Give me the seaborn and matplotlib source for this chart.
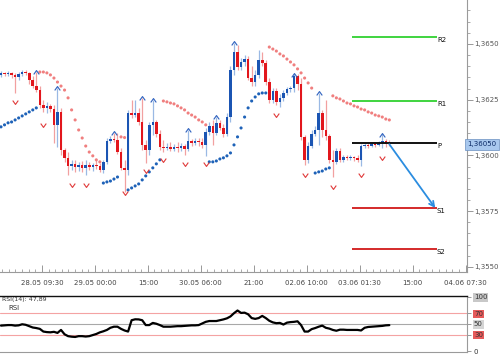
import numpy as np
import pandas as pd
import matplotlib
matplotlib.use('Agg')
import matplotlib.pyplot as plt
from matplotlib.path import Path
from matplotlib.ticker import FixedLocator, MultipleLocator
import seaborn as sns

# hourly candles (price)
opens = [1.36361, 1.36370, 1.36365, 1.36370, 1.36361, 1.36352, 1.36365, 1.36374, 1.36370, 1.36338,
         1.36311, 1.36293, 1.36226, 1.36213, 1.36222, 1.36208, 1.36137, 1.36195, 1.36024, 1.35989,
         1.35953, 1.35962, 1.35948, 1.35957, 1.35944, 1.35957, 1.35948, 1.35957, 1.35953, 1.35935,
         1.35971, 1.36065, 1.36074, 1.36069, 1.36015, 1.35944, 1.35935, 1.36190, 1.36181, 1.36190,
         1.36150, 1.36047, 1.36024, 1.36137, 1.36150, 1.36096, 1.36038, 1.36033, 1.36038, 1.36029,
         1.36038, 1.36033, 1.36042, 1.36029, 1.36065, 1.36056, 1.36065, 1.36060, 1.36047, 1.36105,
         1.36132, 1.36101, 1.36146, 1.36123, 1.36096, 1.36172, 1.36383, 1.36464, 1.36397, 1.36419,
         1.36432, 1.36347, 1.36329, 1.36361, 1.36428, 1.36414, 1.36329, 1.36249, 1.36289, 1.36240,
         1.36258, 1.36280, 1.36298, 1.36302, 1.36356, 1.36320, 1.36083, 1.35980, 1.36042, 1.36096,
         1.36114, 1.36190, 1.36114, 1.36087, 1.35980, 1.35971, 1.36020, 1.35980, 1.35993, 1.35989,
         1.35993, 1.35989, 1.35980, 1.36042, 1.36047, 1.36042, 1.36051, 1.36047, 1.36056, 1.36065,
         1.36051]
highs = [1.36379, 1.36374, 1.36379, 1.36374, 1.36370, 1.36374, 1.36383, 1.36383, 1.36374, 1.36356,
         1.36374, 1.36311, 1.36249, 1.36240, 1.36231, 1.36226, 1.36302, 1.36213, 1.36033, 1.36015,
         1.35980, 1.35980, 1.35971, 1.35975, 1.35980, 1.35971, 1.35966, 1.35980, 1.35966, 1.35980,
         1.36078, 1.36087, 1.36101, 1.36101, 1.36033, 1.35980, 1.36204, 1.36249, 1.36249, 1.36213,
         1.36258, 1.36069, 1.36150, 1.36249, 1.36159, 1.36114, 1.36069, 1.36056, 1.36060, 1.36051,
         1.36060, 1.36056, 1.36051, 1.36114, 1.36074, 1.36078, 1.36078, 1.36078, 1.36123, 1.36150,
         1.36159, 1.36172, 1.36159, 1.36141, 1.36190, 1.36401, 1.36504, 1.36495, 1.36437, 1.36450,
         1.36446, 1.36401, 1.36383, 1.36473, 1.36464, 1.36428, 1.36347, 1.36302, 1.36302, 1.36276,
         1.36293, 1.36307, 1.36311, 1.36365, 1.36365, 1.36347, 1.36092, 1.36060, 1.36114, 1.36132,
         1.36280, 1.36204, 1.36249, 1.36096, 1.36024, 1.36033, 1.36033, 1.36002, 1.36002, 1.36002,
         1.35998, 1.36002, 1.36051, 1.36056, 1.36056, 1.36060, 1.36060, 1.36065, 1.36096, 1.36074,
         1.36069]
lows = [1.36352, 1.36356, 1.36356, 1.36347, 1.36280, 1.36338, 1.36356, 1.36361, 1.36320, 1.36302,
        1.36284, 1.36213, 1.36195, 1.36190, 1.36195, 1.36056, 1.36038, 1.36002, 1.35971, 1.35912,
        1.35935, 1.35926, 1.35930, 1.35926, 1.35912, 1.35935, 1.35930, 1.35939, 1.35926, 1.35921,
        1.35962, 1.36056, 1.36060, 1.36006, 1.35935, 1.35836, 1.35912, 1.36168, 1.36172, 1.36137,
        1.36024, 1.35966, 1.36002, 1.36092, 1.36083, 1.36024, 1.36015, 1.36024, 1.36020, 1.36020,
        1.36015, 1.36020, 1.36002, 1.36020, 1.36042, 1.36047, 1.36042, 1.36033, 1.35998, 1.36092,
        1.36047, 1.36092, 1.36114, 1.36083, 1.36087, 1.36150, 1.36361, 1.36383, 1.36383, 1.36401,
        1.36338, 1.36311, 1.36311, 1.36347, 1.36401, 1.36316, 1.36235, 1.36235, 1.36226, 1.36217,
        1.36244, 1.36271, 1.36284, 1.36284, 1.36293, 1.36069, 1.35957, 1.35966, 1.36033, 1.36087,
        1.36047, 1.36083, 1.36069, 1.35966, 1.35903, 1.35962, 1.35971, 1.35971, 1.35980, 1.35980,
        1.35975, 1.35971, 1.35953, 1.36033, 1.36033, 1.36038, 1.36038, 1.36042, 1.36033, 1.36038,
        1.36042]
closes = [1.36370, 1.36365, 1.36370, 1.36361, 1.36352, 1.36365, 1.36374, 1.36370, 1.36338, 1.36311,
          1.36293, 1.36226, 1.36213, 1.36222, 1.36208, 1.36137, 1.36195, 1.36024, 1.35989, 1.35953,
          1.35962, 1.35948, 1.35957, 1.35944, 1.35957, 1.35948, 1.35957, 1.35953, 1.35935, 1.35971,
          1.36065, 1.36074, 1.36069, 1.36015, 1.35944, 1.35935, 1.36190, 1.36181, 1.36190, 1.36150,
          1.36047, 1.36024, 1.36137, 1.36150, 1.36096, 1.36038, 1.36033, 1.36038, 1.36029, 1.36038,
          1.36033, 1.36042, 1.36029, 1.36065, 1.36056, 1.36065, 1.36060, 1.36047, 1.36105, 1.36132,
          1.36101, 1.36146, 1.36123, 1.36096, 1.36172, 1.36383, 1.36464, 1.36397, 1.36419, 1.36432,
          1.36347, 1.36329, 1.36361, 1.36428, 1.36414, 1.36329, 1.36249, 1.36289, 1.36240, 1.36258,
          1.36280, 1.36298, 1.36302, 1.36356, 1.36320, 1.36083, 1.35980, 1.36042, 1.36096, 1.36114,
          1.36190, 1.36114, 1.36087, 1.35980, 1.35971, 1.36020, 1.35980, 1.35993, 1.35989, 1.35993,
          1.35989, 1.35980, 1.36042, 1.36047, 1.36042, 1.36051, 1.36047, 1.36056, 1.36065, 1.36051,
          1.36050]

# parabolic SAR, one dot per candle; 1 = dot under the price (blue), 0 = above (red)
sar = [1.36128, 1.36137, 1.36146, 1.36150, 1.36159, 1.36168, 1.36177, 1.36186, 1.36195, 1.36204, 1.36213,
       1.36374, 1.36374, 1.36370, 1.36361, 1.36347, 1.36329, 1.36311, 1.36293, 1.36258, 1.36204,
       1.36159, 1.36114, 1.36078, 1.36042, 1.36015, 1.35998, 1.35980, 1.35971,
       1.35876, 1.35881, 1.35885, 1.35894, 1.35903,
       1.36083, 1.36080,
       1.35845, 1.35854, 1.35863, 1.35872, 1.35890, 1.35908, 1.35926, 1.35944, 1.35962, 1.35980,
       1.36244, 1.36240, 1.36235, 1.36231, 1.36222, 1.36213, 1.36204, 1.36190, 1.36181, 1.36172,
       1.36159, 1.36150, 1.36137,
       1.35971, 1.35971, 1.35975, 1.35984, 1.35989, 1.35998, 1.36011, 1.36047, 1.36083, 1.36123,
       1.36172, 1.36213, 1.36244, 1.36262, 1.36276, 1.36280, 1.36280,
       1.36486, 1.36477, 1.36468, 1.36455, 1.36446, 1.36432, 1.36419, 1.36406, 1.36388, 1.36370,
       1.36347, 1.36325, 1.36302,
       1.35921, 1.35926, 1.35930, 1.35939, 1.35944,
       1.36267, 1.36258, 1.36253, 1.36244, 1.36235, 1.36231, 1.36222, 1.36217, 1.36208, 1.36204,
       1.36195, 1.36190, 1.36181, 1.36177, 1.36172, 1.36163, 1.36159]
sar_below = [1] * 11 + [0] * 18 + [1] * 5 + [0] * 2 + [1] * 10 + [0] * 13 + [1] * 17 + [0] * 13 + [1] * 5 + [0] * 17

# fractal arrows
fractal_up_idx = [10, 16, 32, 40, 43, 53, 61, 66, 83, 90, 108]
fractal_up_px = [1.36374, 1.36302, 1.36101, 1.36258, 1.36249, 1.36114, 1.36172, 1.36504, 1.36361, 1.36280, 1.36092]
fractal_dn_idx = [4, 12, 20, 24, 35, 41, 46, 52, 58, 78, 86, 94, 102, 108]
fractal_dn_px = [1.36240, 1.36137, 1.35868, 1.35868, 1.35832, 1.35930, 1.35980, 1.35962, 1.35962,
                 1.36181, 1.35912, 1.35859, 1.35912, 1.35989]

rsi = [47, 47.5, 48, 48, 47, 47.5, 49.5, 48.5, 46, 43.5,
       42.5, 41, 36, 35, 34.6, 35.5, 33.5, 39, 31, 27.5,
       26.5, 26, 27.5, 27.5, 26.8, 27.5, 29.5, 31.5, 34.5, 36.5,
       39, 43, 45, 45, 41, 38, 36, 57, 58.7, 58.5,
       57, 48, 48, 52, 50.5, 48, 45, 45, 45, 45.5,
       46, 46, 46.5, 47, 47.5, 47.5, 48, 51, 54, 55.5,
       55.5, 55.5, 57, 58.5, 60.5, 64, 70, 75, 70.5, 71,
       68, 61, 59.5, 61, 65, 61, 56, 53, 51.5, 52,
       49, 52.5, 53.5, 54, 55, 48, 36, 36, 40.5, 42.5,
       45, 47, 43, 41.5, 39, 37.5, 39.5, 39.5, 39, 39,
       39, 39, 38, 43, 44.5, 45, 45.5, 46, 46.5, 47.5,
       47.89]

pivot_names = ['R2', 'R1', 'P', 'S1', 'S2']
pivot_levels = [1.36531, 1.36244, 1.36055, 1.35764, 1.35580]
pivot_colors = ['#3fd43f', '#3fd43f', '#111111', '#d42a2a', '#d42a2a']

time_labels = ['28.05 09:30', '29.05 00:00', '15:00', '30.05 06:00', '21:00',
               '02.06 10:00', '03.06 01:30', '15:00', '04.06 07:30']
price_ticks = [1.3550, 1.3575, 1.3600, 1.3625, 1.3650]
rsi_ticks = [0, 30, 50, 70, 100]

# layout (candle index units)
first_label = 11.6
label_step = 15
pivot_start, pivot_end = 99.4, 123.5
x_lo, x_hi = -0.28, 132.0

sns.set_theme(style='white')
plt.rcParams['font.family'] = ['DejaVu Sans']

W, H = 500, 354
fig = plt.figure(figsize=(W / 100, H / 100), dpi=100)
ax = fig.add_axes([0, (H - 272) / H, 467 / W, 272 / H])
ax_rsi = fig.add_axes([0, 2 / H, 467 / W, 56 / H])

n = len(closes)
df = pd.DataFrame({'i': np.arange(n), 'open': opens, 'high': highs, 'low': lows,
                   'close': closes, 'sar': sar, 'below': sar_below, 'rsi': rsi})
up = df['close'] >= df['open']

blue, red = '#1b55b3', '#e2161c'
light_blue, light_red = '#9ab9e4', '#f2a0a0'

# wicks, then bodies
ax.vlines(df['i'][up], df['low'][up], df['high'][up], color=light_blue, lw=0.9, zorder=2)
ax.vlines(df['i'][~up], df['low'][~up], df['high'][~up], color=light_red, lw=0.9, zorder=2)
body = (df['close'] - df['open']).abs().clip(lower=0.000025)
ax.bar(df['i'], body, bottom=df[['open', 'close']].min(axis=1), width=0.72,
       color=np.where(up, blue, red), linewidth=0, zorder=3)

# SAR dots
df['side'] = np.where(df['below'] == 1, 'bull', 'bear')
sns.scatterplot(data=df, x='i', y='sar', hue='side', palette={'bull': '#1e62b8', 'bear': '#f07f7f'},
                s=5, linewidth=0, legend=False, ax=ax, zorder=4)

# fractal carets
up_mark = Path([(-1, -0.7), (0, 0.7), (1, -0.7)], [Path.MOVETO, Path.LINETO, Path.LINETO])
dn_mark = Path([(-1, 0.7), (0, -0.7), (1, 0.7)], [Path.MOVETO, Path.LINETO, Path.LINETO])
ax.plot(fractal_up_idx, fractal_up_px, ls='none', marker=up_mark, ms=4, mfc='none', mec='#2f62bf', mew=0.8, zorder=5)
ax.plot(fractal_dn_idx, fractal_dn_px, ls='none', marker=dn_mark, ms=4, mfc='none', mec='#e03a3a', mew=0.8, zorder=5)

# daily pivot levels
ax.hlines(pivot_levels, pivot_start, pivot_end, colors=pivot_colors, lw=1.4, zorder=3)
for name, lvl in zip(pivot_names, pivot_levels):
    ax.text(pivot_end, lvl, name, ha='left', va='top', fontsize=5, color='#111111')

# projected move from last close to S1
ax.annotate('', xy=(pivot_end - 0.5, pivot_levels[3]), xytext=(n - 1, closes[-1]),
            arrowprops=dict(arrowstyle='->', color='#2b8de0', lw=1.3, mutation_scale=9,
                            shrinkA=0, shrinkB=0), zorder=6)

ax.set_xlim(x_lo, x_hi)
ax.set_ylim(1.35477, 1.36697)
ax.set_xlabel('')
ax.set_ylabel('')

# price axis on the right
ax.yaxis.tick_right()
ax.set_yticks(price_ticks)
ax.set_yticklabels([f'{v:.4f}'.replace('.', ',') for v in price_ticks])
ax.yaxis.set_minor_locator(MultipleLocator(0.0005))
ax.tick_params(axis='y', which='major', direction='out', length=4, width=0.6, color='#888888',
               labelsize=5, labelcolor='#555555', pad=1.5, right=True, left=False)
ax.tick_params(axis='y', which='minor', direction='out', length=2, width=0.5, color='#888888',
               right=True, left=False)

# time axis
tick_pos = [first_label + label_step * k for k in range(len(time_labels))]
ax.set_xticks(tick_pos)
ax.set_xticklabels(time_labels)
ax.xaxis.set_minor_locator(FixedLocator(np.arange(first_label - 6 * label_step / 8, x_hi, label_step / 8)))
ax.tick_params(axis='x', which='major', direction='in', length=5, width=0.6, color='#888888',
               labelsize=5, labelcolor='#444444', pad=6, bottom=True)
ax.tick_params(axis='x', which='minor', direction='in', length=2.5, width=0.5, color='#888888', bottom=True)

for side in ['top', 'left']:
    ax.spines[side].set_visible(False)
for side in ['bottom', 'right']:
    ax.spines[side].set_color('#9a9a9a')
    ax.spines[side].set_linewidth(0.8)

# current price tag
ax.text(1.0, closes[-1], f'{closes[-1]:.5f}'.replace('.', ','), transform=ax.get_yaxis_transform(),
        ha='left', va='center', fontsize=5, color='#0b2a66',
        bbox=dict(facecolor='#a8c8ee', edgecolor='#6a8fc0', linewidth=0.5, boxstyle='square,pad=0.35'))

# RSI panel
sns.lineplot(data=df, x='i', y='rsi', color='black', lw=1.6, ax=ax_rsi)
ax_rsi.axhline(70, color='#f4a3a3', lw=0.8, zorder=0)
ax_rsi.axhline(30, color='#f4a3a3', lw=0.8, zorder=0)
ax_rsi.axhline(50, color='#a8a8a8', lw=0.8, zorder=0)
ax_rsi.set_xlim(x_lo, x_hi)
ax_rsi.set_ylim(-1.85, 101.85)
ax_rsi.set_xlabel('')
ax_rsi.set_ylabel('')
ax_rsi.set_xticks([])
ax_rsi.yaxis.tick_right()
ax_rsi.set_yticks(rsi_ticks)
ax_rsi.set_yticklabels([str(v) for v in rsi_ticks])
ax_rsi.tick_params(axis='y', direction='out', length=3, width=0.6, color='#888888',
                   labelsize=5, labelcolor='#333333', pad=2, right=True, left=False)
box_colors = {0: 'none', 30: '#e65a5a', 50: '#d4d4d4', 70: '#e65a5a', 100: '#c8c8c8'}
for lbl, v in zip(ax_rsi.get_yticklabels(), rsi_ticks):
    lbl.set_bbox(dict(facecolor=box_colors[v], edgecolor='none', boxstyle='square,pad=0.15'))
ax_rsi.spines['left'].set_visible(False)
ax_rsi.spines['top'].set_color('#111111')
ax_rsi.spines['top'].set_linewidth(1.0)
for side in ['bottom', 'right']:
    ax_rsi.spines[side].set_color('#9a9a9a')
    ax_rsi.spines[side].set_linewidth(0.8)

fig.text(2 / W, 1 - 299.5 / H, f'RSI(14): {rsi[-1]:.2f}'.replace('.', ','), ha='left', va='center',
         fontsize=4.5, color='#333333')
fig.text(8 / W, 1 - 307.5 / H, 'RSI', ha='left', va='center', fontsize=5, color='#333333')

fig.savefig('out.png', dpi=100)
